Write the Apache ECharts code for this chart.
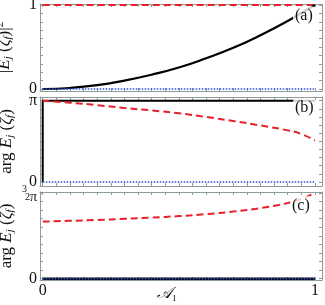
<!DOCTYPE html>
<html><head><meta charset="utf-8">
<script src="https://cdn.jsdelivr.net/npm/echarts@6/dist/echarts.min.js"></script>
<style>html,body{margin:0;padding:0;background:#fff}#c{width:325px;height:305px}</style>
</head><body><div id="c"></div>
<script>
// ---- data ----
const xA = [0, 0.1, 0.2, 0.3, 0.4, 0.5, 0.6, 0.7, 0.8, 0.9, 1.0];
const absBlack = [0, 0.012, 0.045, 0.1, 0.17, 0.255, 0.365, 0.49, 0.64, 0.81, 1.0];
const absRed = [1, 1];
const absBlue = [0, 0];
const xB = [0, 0.1, 0.2, 0.3, 0.4, 0.5, 0.6, 0.7, 0.8, 0.9, 0.95, 1.0];
const argBRed = [1.0, 0.975, 0.945, 0.91, 0.88, 0.845, 0.8, 0.75, 0.695, 0.635, 0.59, 0.51]; // units of pi
const argBBlackX = [0, 0, 1];
const argBBlackY = [0, 1, 1];
const argCRed = [1.0, 1.012, 1.028, 1.048, 1.07, 1.095, 1.13, 1.175, 1.235, 1.325, 1.395, 1.5];
const argCBlack = [0, 0];
const edgeX = [0, 1];
const xTickLabels = ['0', '1'];
const yTicksA = [0,0.1,0.2,0.3,0.4,0.5,0.6,0.7,0.8,0.9,1];
const yTicksB = [0,0.1,0.2,0.3,0.4,0.5,0.6,0.7,0.8,0.9,1];
const yTicksC = [0,0.15,0.3,0.45,0.6,0.75,0.9,1.05,1.2,1.35,1.5];
const xTicks = [0,0.05,0.1,0.15,0.2,0.25,0.3,0.35,0.4,0.45,0.5,0.55,0.6,0.65,0.7,0.75,0.8,0.85,0.9,0.95,1];

const SERIF = 'Liberation Serif';
const FRAME = '#8d9b9b';
const RED = '#e8202a', BLUE = '#2a4ee0';

const zip = (xs, ys) => xs.map((x, i) => [x, ys[i]]);

const grids = [
  {left: 40, top: 4, width: 282, height: 87, outerBoundsMode: 'none', containLabel: false},
  {left: 40, top: 97, width: 282, height: 89, outerBoundsMode: 'none', containLabel: false},
  {left: 40, top: 192, width: 282, height: 88, outerBoundsMode: 'none', containLabel: false}
];
const yRanges = [[-0.024, 1.012], [-0.049, 1.045], [-0.023, 1.517]];
const yTicks = [yTicksA, yTicksB, yTicksC];

const xAxes = [], yAxes = [];
grids.forEach((g, i) => {
  const bottomLabels = i === 2;
  xAxes.push({
    type: 'value', gridIndex: i, min: -0.01, max: 1.026, position: 'bottom',
    axisLine: {show: true, onZero: false, lineStyle: {color: FRAME, width: 1}},
    axisTick: {show: true, inside: true, length: 3, customValues: xTicks, lineStyle: {color: FRAME}},
    axisLabel: {show: bottomLabels, customValues: [0, 1], formatter: v => v === 0 ? xTickLabels[0] : xTickLabels[1],
      fontFamily: SERIF, fontSize: 16, color: '#111', margin: 3},
    splitLine: {show: false},
    name: bottomLabels ? '{s|𝒜}{sub|₁}' : '', nameLocation: 'middle', nameGap: 6, nameMoveOverlap: false,
    nameTextStyle: {padding: [0, 28, 0, 0], rich: {
      s: {fontFamily: 'DejaVu Serif', fontSize: 16, fontStyle: 'italic', color: '#111'},
      sub: {fontFamily: SERIF, fontSize: 16, color: '#111'}
    }}
  });
  xAxes.push({
    type: 'value', gridIndex: i, min: -0.01, max: 1.026, position: 'top',
    axisLine: {show: true, onZero: false, lineStyle: {color: FRAME, width: 1}},
    axisTick: {show: true, inside: true, length: 3, customValues: xTicks, lineStyle: {color: FRAME}},
    axisLabel: {show: false}, splitLine: {show: false}
  });
  const names = [
    '|{i|E}{sub|j} ({i|ζ}{sub|f})|{sup|2}',
    'arg {i|E}{sub|j} ({i|ζ}{sub|f})',
    'arg {i|E}{sub|j} ({i|ζ}{sub|f})'
  ];
  const labelFns = [
    v => v === 1 ? '1' : (v === 0 ? '0' : ''),
    v => v === 1 ? 'π' : (v === 0 ? '0' : ''),
    v => v === 1.5 ? '{n|3}\n{d|2}{p|π}' : (v === 0 ? '0' : '')
  ];
  yAxes.push({
    type: 'value', gridIndex: i, min: yRanges[i][0], max: yRanges[i][1], position: 'left',
    axisLine: {show: true, onZero: false, lineStyle: {color: FRAME, width: 1}},
    axisTick: {show: true, inside: true, length: 3, customValues: yTicks[i], lineStyle: {color: FRAME}},
    axisLabel: {show: true, customValues: i === 2 ? [0, 1.5] : [0, 1], formatter: labelFns[i],
      fontFamily: SERIF, fontSize: 16, color: '#111', margin: 3,
      rich: {
        n: {fontFamily: SERIF, fontSize: 10, color: '#111', padding: [0, 10, 0, 0], lineHeight: 8},
        d: {fontFamily: SERIF, fontSize: 10, color: '#111', lineHeight: 8},
        p: {fontFamily: SERIF, fontSize: 14, color: '#111', lineHeight: 8}
      }},
    splitLine: {show: false},
    name: names[i], nameLocation: 'middle', nameGap: 25, nameRotate: 90, nameMoveOverlap: false,
    nameTextStyle: {fontFamily: SERIF, fontSize: 17, color: '#111', rich: {
      i: {fontFamily: SERIF, fontSize: 17, fontStyle: 'italic', color: '#111'},
      sub: {fontFamily: SERIF, fontSize: 11, fontStyle: 'italic', color: '#111', padding: [0, 0, -7, 0]},
      sup: {fontFamily: SERIF, fontSize: 11, color: '#111', padding: [0, 0, 9, 0]}
    }}
  });
  yAxes.push({
    type: 'value', gridIndex: i, min: yRanges[i][0], max: yRanges[i][1], position: 'right',
    axisLine: {show: true, onZero: false, lineStyle: {color: FRAME, width: 1}},
    axisTick: {show: true, inside: true, length: 3, customValues: yTicks[i], lineStyle: {color: FRAME}},
    axisLabel: {show: false}, splitLine: {show: false}
  });
});

const line = (gi, data, color, type, width, smooth, z) => ({
  type: 'line', xAxisIndex: gi * 2, yAxisIndex: gi * 2, data, smooth: smooth || false,
  showSymbol: false, symbol: 'none', z: z || 2, animation: false,
  lineStyle: {color, type, width}
});

const series = [
  line(0, zip(xA, absBlack), '#000', 'solid', 2.2, true, 3),
  line(0, zip(edgeX, absRed), RED, [7, 4], 2, false, 2),
  line(0, zip(edgeX, absBlue), BLUE, [1.5, 1.5], 1.5, false, 4),
  line(1, zip(argBBlackX, argBBlackY), '#000', 'solid', 2, false, 2),
  line(1, zip(xB, argBRed), RED, [7, 4], 2, true, 3),
  line(1, zip(edgeX, absBlue), BLUE, [1.5, 1.5], 1.5, false, 4),
  line(2, zip(xB, argCRed), RED, [7, 4], 2, true, 3),
  line(2, zip(edgeX, argCBlack), '#000', 'solid', 2.5, false, 2),
  line(2, zip(edgeX, absBlue), BLUE, [1.5, 1.5], 1.5, false, 4)
];

const panelLabel = (text, x, y) => ({
  type: 'text', left: x, top: y, z: 100,
  style: {text, font: '16px "Liberation Serif"', fill: '#111',
    backgroundColor: 'rgba(255,255,255,0.8)', padding: [2, 2, 1, 2], borderRadius: 4}
});

const chart = echarts.init(document.getElementById('c'), null, {renderer: 'canvas'});
chart.setOption({
  animation: false,
  backgroundColor: '#fff',
  grid: grids,
  xAxis: xAxes,
  yAxis: yAxes,
  series,
  graphic: [
    panelLabel('(a)', 293, 6),
    panelLabel('(b)', 293, 98),
    panelLabel('(c)', 290, 196)
  ]
});
</script></body></html>
